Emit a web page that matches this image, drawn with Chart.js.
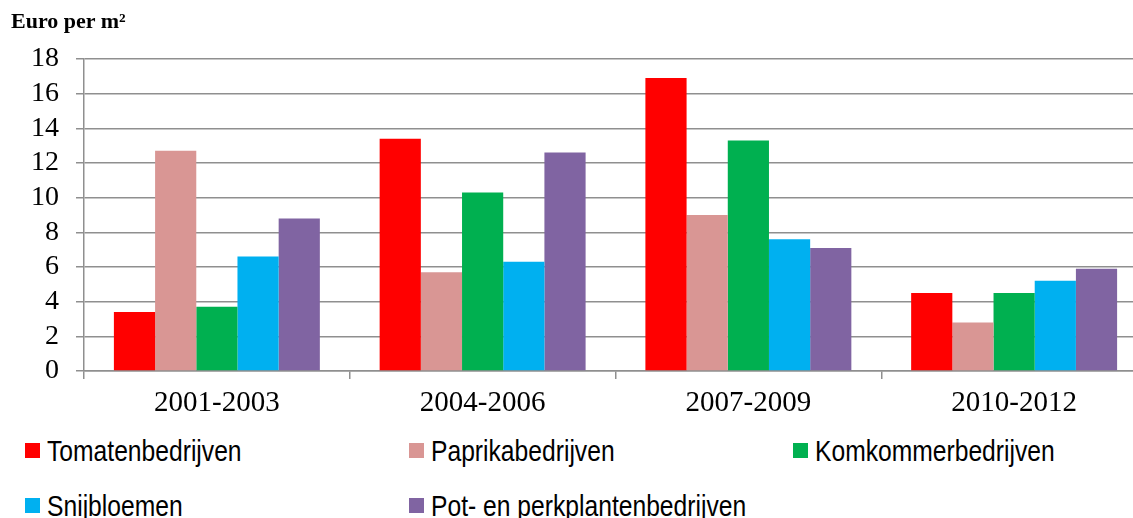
<!DOCTYPE html>
<html>
<head>
<meta charset="utf-8">
<script src="https://cdn.jsdelivr.net/npm/chart.js@4"></script>
<style>
  html, body { margin: 0; padding: 0; background: #fff; overflow: hidden; }
  #wrap { position: relative; width: 1133px; height: 518px; overflow: hidden; }
  #chart-box { position: absolute; left: 0; top: 0; width: 1147px; height: 430px; }
  #unit { position: absolute; left: 11px; top: 8px; font: bold 22px "Liberation Serif", serif; color: #000; }
  .leg-box { position: absolute; width: 15px; height: 15px; }
  .leg-text { position: absolute; font: 29px "Liberation Sans", sans-serif; color: #000; white-space: nowrap; line-height: 30px;
              transform: scaleX(0.85); transform-origin: left center; }
</style>
</head>
<body>
<div id="wrap">
  <div id="chart-box"><canvas id="myChart"></canvas></div>
  <div id="unit">Euro per m²</div>
  <div id="legend"></div>
</div>
<script>
let periods = ["2001-2003", "2004-2006", "2007-2009", "2010-2012"];
let seriesNames = ["Tomatenbedrijven", "Paprikabedrijven", "Komkommerbedrijven", "Snijbloemen", "Pot- en perkplantenbedrijven"];
let tomaten = [3.4, 13.4, 16.9, 4.5];
let paprika = [12.7, 5.7, 9.0, 2.8];
let komkommer = [3.7, 10.3, 13.3, 4.5];
let snijbloemen = [6.6, 6.3, 7.6, 5.2];
let potPerk = [8.8, 12.6, 7.1, 5.9];
let barColors = ["#ff0000", "#d99694", "#00b050", "#00b0f0", "#8064a2"];

// legend: box left x and row centre y for each item
let legendPos = [[25, 450], [409, 450], [793, 450], [25, 505], [409, 505]];

let allValues = [tomaten, paprika, komkommer, snijbloemen, potPerk];
let datasets = seriesNames.map((name, i) => ({
    label: name,
    data: allValues[i],
    backgroundColor: barColors[i],
    borderWidth: 0,
    barPercentage: 1,
    categoryPercentage: 0.775
}));

let legendBox = document.getElementById("legend");
seriesNames.forEach((name, i) => {
    let [x, y] = legendPos[i];
    let b = document.createElement("div");
    b.className = "leg-box";
    b.style.left = x + "px";
    b.style.top = (y - 7) + "px";
    b.style.background = barColors[i];
    legendBox.appendChild(b);
    let t = document.createElement("div");
    t.className = "leg-text";
    t.style.left = (x + 22) + "px";
    t.style.top = (y - 14) + "px";
    t.textContent = name;
    legendBox.appendChild(t);
});

let gridColor = "#8f8f8f";
new Chart("myChart", {
    type: "bar",
    data: { labels: periods, datasets: datasets },
    options: {
        responsive: true,
        maintainAspectRatio: false,
        animation: false,
        layout: { padding: { top: 59, right: 0, bottom: 9, left: 0 } },
        plugins: { legend: { display: false }, tooltip: { enabled: false } },
        scales: {
            x: {
                grid: { display: true, drawOnChartArea: false, drawTicks: true, tickLength: 8, color: gridColor, lineWidth: 1.5, offset: true },
                border: { color: gridColor, width: 1.5 },
                ticks: { color: "#000", padding: 7, font: { family: "Liberation Serif", size: 29 } },
                afterFit: (s) => { s.height = 50; }
            },
            y: {
                min: 0, max: 18,
                ticks: { stepSize: 2, autoSkip: false, color: "#000", padding: 17, font: { family: "Liberation Serif", size: 28 } },
                grid: { color: gridColor, lineWidth: 1.5, tickLength: 8 },
                border: { color: gridColor, width: 1.5 },
                afterFit: (s) => { s.width = 84; }
            }
        }
    }
});
</script>
</body>
</html>
